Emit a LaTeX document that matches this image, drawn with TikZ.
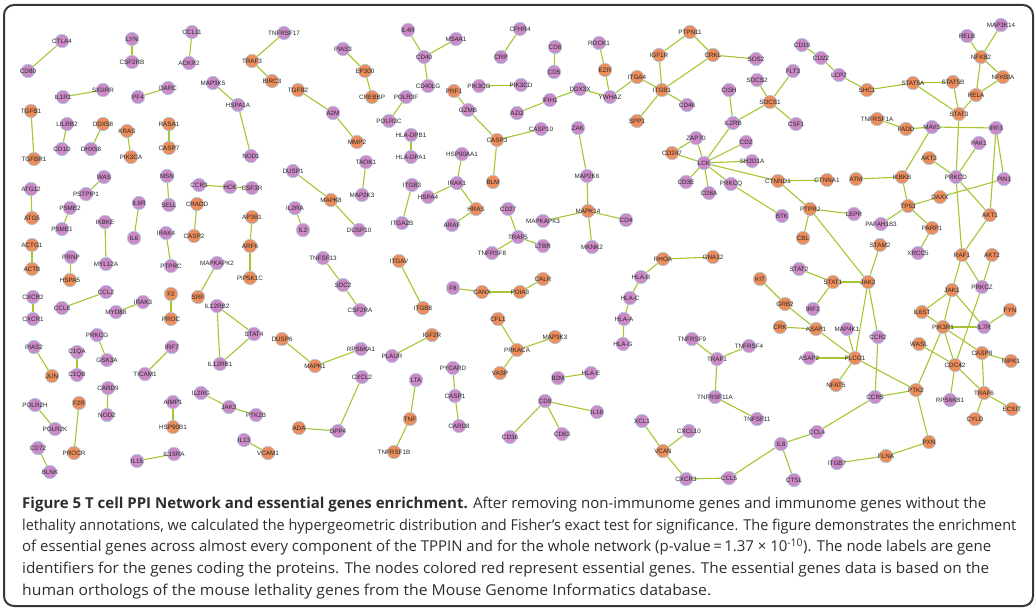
\documentclass[tikz,border=0pt]{standalone}
\usepackage{fontspec}
\setmainfont{Liberation Sans}
\newfontfamily\capfont{Open Sans}
\usetikzlibrary{backgrounds}
\definecolor{P}{RGB}{204,138,198}
\definecolor{O}{RGB}{236,141,92}
\definecolor{nedge}{RGB}{165,205,228}
\definecolor{ecol}{RGB}{165,198,48}
\definecolor{frame}{RGB}{55,55,55}
\definecolor{captxt}{RGB}{45,45,45}
\tikzset{
  gn/.style={circle, draw=nedge, line width=0.5pt, fill=#1, minimum size=13.5pt, inner sep=0pt},
  lab/.style={font=\fontsize{6.3}{7}\selectfont, text=black!85, inner sep=0pt},
  edge/.style={draw=ecol, line width=1.1pt},
  capline/.style={anchor=base west, inner sep=0pt, text=captxt, font=\capfont\fontsize{15}{17}\selectfont}
}
\newcommand\gnd[5]{\node[gn=#5, label={[lab]center:#4}] (#1) at (#2,#3) {};}
\newcommand\capw[2]{\resizebox{#1pt}{\height}{#2}}
\begin{document}
\begin{tikzpicture}[x=1pt,y=-1pt]
\useasboundingbox (0,0) rectangle (1036,610);
\draw[line width=2pt, frame, rounded corners=10pt] (4,5) rectangle (1033,606);
% left section
\gnd{CTLA4}{62}{41}{CTLA4}{P}
\gnd{CD80}{28}{71}{CD80}{P}
\gnd{LYN}{132}{39}{LYN}{P}
\gnd{CSF2RB}{132}{62}{CSF2RB}{P}
\gnd{CCL11}{192}{32}{CCL11}{P}
\gnd{ACKR2}{189}{63}{ACKR2}{P}
\gnd{TRAF3}{252}{61}{TRAF3}{O}
\gnd{TNFRSF17}{284}{33}{TNFRSF17}{P}
\gnd{BIRC3}{272}{81}{BIRC3}{O}
\gnd{MAP3K5}{213}{83}{MAP3K5}{P}
\gnd{HSPA1A}{238}{105}{HSPA1A}{P}
\gnd{NOD1}{251}{156}{NOD1}{P}
\gnd{IL1R1}{63}{97}{IL1R1}{P}
\gnd{SIGIRR}{103}{90}{SIGIRR}{P}
\gnd{PF4}{138}{97}{PF4}{P}
\gnd{DARC}{168}{88}{DARC}{P}
\gnd{TGFB1}{31}{111}{TGFB1}{O}
\gnd{TGFBR1}{34}{159}{TGFBR1}{O}
\gnd{LILRB2}{67}{124}{LILRB2}{P}
\gnd{CD1D}{62}{149}{CD1D}{P}
\gnd{DDX58}{103}{124}{DDX58}{O}
\gnd{DHX58}{91}{149}{DHX58}{P}
\gnd{KRAS}{127}{131}{KRAS}{O}
\gnd{PIK3CA}{131}{157}{PIK3CA}{O}
\gnd{RASA1}{169}{124}{RASA1}{O}
\gnd{CASP7}{169}{148}{CASP7}{O}
\gnd{WAS}{104}{177}{WAS}{P}
\gnd{PSTPIP1}{86}{194}{PSTPIP1}{P}
\gnd{ATG12}{31}{189}{ATG12}{P}
\gnd{ATG5}{32}{218}{ATG5}{O}
\gnd{PSME2}{70}{208}{PSME2}{P}
\gnd{PSME1}{62}{229}{PSME1}{P}
\gnd{IKBKE}{105}{222}{IKBKE}{P}
\gnd{MYL12A}{106}{264}{MYL12A}{P}
\gnd{MSN}{167}{176}{MSN}{P}
\gnd{SELL}{169}{205}{SELL}{P}
\gnd{CCR3}{199}{185}{CCR3}{P}
\gnd{HCK}{230}{187}{HCK}{P}
\gnd{CSF3R}{252}{188}{CSF3R}{P}
\gnd{CRADD}{197}{204}{CRADD}{O}
\gnd{CASP2}{194}{236}{CASP2}{O}
\gnd{IL6R}{139}{203}{IL6R}{P}
\gnd{IL6}{134}{238}{IL6}{P}
\gnd{IRAK4}{166}{233}{IRAK4}{P}
\gnd{PTPRC}{171}{266}{PTPRC}{P}
\gnd{AP3B1}{252}{217}{AP3B1}{O}
\gnd{ARF6}{250}{246}{ARF6}{O}
\gnd{PIP5K1C}{250}{278}{PIP5K1C}{O}
\gnd{ACTG1}{32}{245}{ACTG1}{O}
\gnd{ACTB}{32}{269}{ACTB}{O}
\gnd{PRNP}{71}{257}{PRNP}{P}
\gnd{HSPA5}{70}{280}{HSPA5}{O}
\gnd{MAPKAPK2}{217}{263}{MAPKAPK2}{P}
\gnd{SRF}{198}{297}{SRF}{O}
\gnd{CXCR2}{33}{297}{CXCR2}{P}
\gnd{CXCR1}{33}{319}{CXCR1}{P}
\gnd{CCL2}{106}{292}{CCL2}{P}
\gnd{CCL8}{62}{308}{CCL8}{P}
\gnd{IRAK3}{143}{302}{IRAK3}{P}
\gnd{MYD88}{116}{312}{MYD88}{P}
\gnd{F2}{171}{294}{F2}{O}
\gnd{PROC}{171}{319}{PROC}{O}
\gnd{IL12RB2}{217}{306}{IL12RB2}{P}
\gnd{STAT4}{254}{334}{STAT4}{P}
\gnd{IL12RB1}{220}{364}{IL12RB1}{P}
\gnd{PRKCG}{97}{335}{PRKCG}{P}
\gnd{GSK3A}{107}{360}{GSK3A}{P}
\gnd{PIAS2}{34}{347}{PIAS2}{P}
\gnd{JUN}{52}{376}{JUN}{O}
\gnd{C1QA}{77}{352}{C1QA}{P}
\gnd{C1QB}{77}{375}{C1QB}{P}
\gnd{IRF7}{172}{347}{IRF7}{P}
\gnd{TICAM1}{145}{374}{TICAM1}{P}
\gnd{CARD9}{108}{388}{CARD9}{P}
\gnd{NOD2}{107}{415}{NOD2}{P}
\gnd{POLR2H}{35}{405}{POLR2H}{P}
\gnd{POLR2K}{55}{429}{POLR2K}{P}
\gnd{F2R}{79}{403}{F2R}{O}
\gnd{PROCR}{74}{453}{PROCR}{O}
\gnd{CD72}{38}{448}{CD72}{P}
\gnd{BLNK}{50}{472}{BLNK}{P}
\gnd{AIMP1}{173}{402}{AIMP1}{P}
\gnd{HSP90B1}{173}{427}{HSP90B1}{O}
\gnd{IL2RG}{201}{393}{IL2RG}{P}
\gnd{JAK3}{229}{407}{JAK3}{P}
\gnd{PTK2B}{256}{415}{PTK2B}{P}
\gnd{IL13}{244}{440}{IL13}{P}
\gnd{VCAM1}{268}{453}{VCAM1}{O}
\gnd{IL15}{137}{461}{IL15}{P}
\gnd{IL15RA}{174}{454}{IL15RA}{P}
% middle
\gnd{PIAS3}{343}{49}{PIAS3}{P}
\gnd{EP300}{365}{71}{EP300}{O}
\gnd{CREBBP}{372}{97}{CREBBP}{O}
\gnd{IL4R}{408}{30}{IL4R}{P}
\gnd{MS4A1}{456}{39}{MS4A1}{P}
\gnd{CD40}{424}{57}{CD40}{P}
\gnd{CD40LG}{428}{86}{CD40LG}{P}
\gnd{CFHR4}{520}{29}{CFHR4}{P}
\gnd{CRP}{501}{57}{CRP}{P}
\gnd{TGFB2}{298}{90}{TGFB2}{O}
\gnd{A2M}{333}{113}{A2M}{P}
\gnd{MMP2}{357}{142}{MMP2}{O}
\gnd{POLR3F}{406}{97}{POLR3F}{P}
\gnd{POLR3C}{389}{121}{POLR3C}{P}
\gnd{PRF1}{454}{91}{PRF1}{O}
\gnd{PIK3CG}{479}{86}{PIK3CG}{P}
\gnd{PIK3CD}{521}{85}{PIK3CD}{P}
\gnd{GZMB}{468}{110}{GZMB}{P}
\gnd{AZI2}{517}{113}{AZI2}{P}
\gnd{HLADPB1}{411}{135}{HLA-DPB1}{P}
\gnd{HLADPA1}{411}{157}{HLA-DPA1}{P}
\gnd{CASP3}{497}{140}{CASP3}{O}
\gnd{BLM}{493}{182}{BLM}{O}
\gnd{TAOK1}{366}{162}{TAOK1}{P}
\gnd{MAP2K3}{362}{195}{MAP2K3}{P}
\gnd{DUSP1}{293}{171}{DUSP1}{P}
\gnd{MAPK8}{331}{200}{MAPK8}{O}
\gnd{DUSP10}{359}{230}{DUSP10}{P}
\gnd{IL2RA}{295}{208}{IL2RA}{P}
\gnd{IL2}{303}{230}{IL2}{P}
\gnd{ITGB3}{412}{185}{ITGB3}{P}
\gnd{ITGA2B}{402}{223}{ITGA2B}{P}
\gnd{HSP90AA1}{462}{154}{HSP90AA1}{P}
\gnd{IRAK1}{457}{183}{IRAK1}{P}
\gnd{HSPA4}{428}{197}{HSPA4}{P}
\gnd{HRAS}{476}{209}{HRAS}{O}
\gnd{ARAF}{452}{225}{ARAF}{P}
\gnd{CD27}{508}{209}{CD27}{P}
\gnd{TRAF5}{518}{237}{TRAF5}{P}
\gnd{TNFRSF8}{492}{253}{TNFRSF8}{P}
\gnd{LTBR}{543}{246}{LTBR}{P}
\gnd{CD6}{555}{47}{CD6}{P}
\gnd{CD5}{554}{72}{CD5}{P}
\gnd{ROCK1}{599}{43}{ROCK1}{P}
\gnd{EZR}{605}{70}{EZR}{O}
\gnd{PTPN11}{690}{32}{PTPN11}{O}
\gnd{IGF1R}{659}{55}{IGF1R}{O}
\gnd{CRKL}{713}{55}{CRKL}{O}
\gnd{SOS2}{756}{59}{SOS2}{P}
\gnd{ITGA4}{637}{77}{ITGA4}{O}
\gnd{ITGB1}{662}{90}{ITGB1}{O}
\gnd{CD46}{687}{105}{CD46}{P}
\gnd{SPP1}{637}{121}{SPP1}{O}
\gnd{DDX3X}{580}{89}{DDX3X}{P}
\gnd{YWHAZ}{610}{97}{YWHAZ}{P}
\gnd{IFIH1}{550}{100}{IFIH1}{P}
\gnd{CASP10}{541}{129}{CASP10}{P}
\gnd{ZAK}{578}{128}{ZAK}{P}
\gnd{MAP2K6}{587}{176}{MAP2K6}{P}
\gnd{MAPK14}{588}{211}{MAPK14}{O}
\gnd{MAPKAPK3}{543}{221}{MAPKAPK3}{P}
\gnd{CD4}{626}{220}{CD4}{P}
\gnd{MKNK2}{592}{247}{MKNK2}{P}
\gnd{TNFSF13}{323}{258}{TNFSF13}{P}
\gnd{SDC2}{343}{285}{SDC2}{P}
\gnd{CSF2RA}{360}{310}{CSF2RA}{P}
\gnd{ITGAV}{399}{261}{ITGAV}{O}
\gnd{ITGB8}{423}{308}{ITGB8}{O}
\gnd{F8}{453}{288}{F8}{P}
\gnd{CANX}{482}{292}{CANX}{O}
\gnd{PDIA3}{520}{292}{PDIA3}{O}
\gnd{CALR}{543}{279}{CALR}{O}
\gnd{CFL1}{498}{319}{CFL1}{O}
\gnd{PRKACA}{517}{350}{PRKACA}{O}
\gnd{VASP}{500}{373}{VASP}{O}
\gnd{MAP3K3}{555}{337}{MAP3K3}{O}
\gnd{DUSP6}{282}{339}{DUSP6}{O}
\gnd{MAPK1}{315}{366}{MAPK1}{O}
\gnd{RPS6KA1}{361}{349}{RPS6KA1}{P}
\gnd{IGF2R}{432}{335}{IGF2R}{O}
\gnd{PLAUR}{392}{356}{PLAUR}{P}
\gnd{CXCL2}{362}{377}{CXCL2}{P}
\gnd{LTA}{416}{380}{LTA}{P}
\gnd{PYCARD}{453}{368}{PYCARD}{P}
\gnd{CASP1}{455}{396}{CASP1}{P}
\gnd{CARD8}{459}{426}{CARD8}{P}
\gnd{ADA}{299}{428}{ADA}{O}
\gnd{DPP4}{338}{431}{DPP4}{P}
\gnd{TNF}{410}{419}{TNF}{O}
\gnd{TNFRSF1B}{394}{452}{TNFRSF1B}{O}
\gnd{B2M}{558}{378}{B2M}{P}
\gnd{HLAE}{591}{373}{HLA-E}{P}
\gnd{CD9}{545}{401}{CD9}{P}
\gnd{IL16}{597}{412}{IL16}{P}
\gnd{CD63}{562}{434}{CD63}{P}
\gnd{CD36}{510}{437}{CD36}{P}
% right
\gnd{RHOA}{663}{259}{RHOA}{O}
\gnd{GNA12}{713}{257}{GNA12}{O}
\gnd{HLAB}{641}{277}{HLA-B}{P}
\gnd{HLAC}{630}{298}{HLA-C}{P}
\gnd{HLAA}{624}{319}{HLA-A}{P}
\gnd{HLAG}{623}{344}{HLA-G}{P}
\gnd{TNFRSF9}{692}{339}{TNFRSF9}{P}
\gnd{TNFRSF4}{749}{346}{TNFRSF4}{P}
\gnd{TRAF1}{717}{359}{TRAF1}{P}
\gnd{TNFRSF11A}{715}{397}{TNFRSF11A}{P}
\gnd{TNFSF11}{757}{419}{TNFSF11}{P}
\gnd{XCL1}{642}{421}{XCL1}{P}
\gnd{CXCL10}{689}{431}{CXCL10}{P}
\gnd{VCAN}{663}{451}{VCAN}{O}
\gnd{CXCR3}{686}{479}{CXCR3}{P}
\gnd{CCL5}{729}{478}{CCL5}{P}
\gnd{IL8}{781}{444}{IL8}{P}
\gnd{CTSL}{794}{480}{CTSL}{P}
\gnd{CCL4}{817}{432}{CCL4}{P}
\gnd{ITGB7}{837}{463}{ITGB7}{P}
\gnd{FLNA}{886}{456}{FLNA}{O}
\gnd{PXN}{929}{442}{PXN}{O}
\gnd{SOCS2}{757}{80}{SOCS2}{P}
\gnd{SOCS1}{770}{102}{SOCS1}{O}
\gnd{FLT3}{793}{71}{FLT3}{P}
\gnd{CSF1}{796}{124}{CSF1}{P}
\gnd{CISH}{729}{90}{CISH}{P}
\gnd{IL2RB}{733}{123}{IL2RB}{P}
\gnd{ZAP70}{696}{138}{ZAP70}{P}
\gnd{CD2}{746}{142}{CD2}{P}
\gnd{CD247}{672}{153}{CD247}{O}
\gnd{LCK}{704}{163}{LCK}{P}
\gnd{SH2D1A}{752}{161}{SH2D1A}{P}
\gnd{CD3E}{686}{182}{CD3E}{P}
\gnd{PRKCQ}{731}{184}{PRKCQ}{P}
\gnd{CD8A}{709}{193}{CD8A}{P}
\gnd{CTNND1}{778}{181}{CTNND1}{O}
\gnd{CTNNA1}{827}{180}{CTNNA1}{O}
\gnd{BTK}{782}{216}{BTK}{P}
\gnd{PTPRJ}{810}{209}{PTPRJ}{O}
\gnd{LEPR}{854}{214}{LEPR}{P}
\gnd{CBL}{803}{238}{CBL}{O}
\gnd{CD19}{802}{45}{CD19}{P}
\gnd{CD22}{821}{58}{CD22}{P}
\gnd{LCP2}{839}{75}{LCP2}{P}
\gnd{SHC1}{867}{90}{SHC1}{O}
\gnd{STAT5A}{913}{83}{STAT5A}{O}
\gnd{STAT5B}{953}{82}{STAT5B}{O}
\gnd{RELB}{967}{36}{RELB}{P}
\gnd{MAP3K14}{1001}{25}{MAP3K14}{P}
\gnd{NFKB2}{981}{57}{NFKB2}{O}
\gnd{NFKBIA}{1003}{77}{NFKBIA}{O}
\gnd{RELA}{976}{95}{RELA}{O}
\gnd{STAT3}{959}{114}{STAT3}{O}
\gnd{TNFRSF1A}{877}{119}{TNFRSF1A}{O}
\gnd{FADD}{906}{129}{FADD}{O}
\gnd{MAVS}{932}{127}{MAVS}{P}
\gnd{IRF3}{996}{128}{IRF3}{P}
\gnd{PAK1}{979}{143}{PAK1}{P}
\gnd{AKT3}{929}{158}{AKT3}{O}
\gnd{PRKCD}{956}{177}{PRKCD}{P}
\gnd{PIN1}{1004}{179}{PIN1}{P}
\gnd{ATM}{856}{179}{ATM}{O}
\gnd{IKBKB}{902}{177}{IKBKB}{O}
\gnd{DAXX}{940}{197}{DAXX}{O}
\gnd{TP53}{908}{206}{TP53}{O}
\gnd{AKT1}{990}{215}{AKT1}{O}
\gnd{PAFAH1B3}{881}{224}{PAFAH1B3}{P}
\gnd{PARP1}{932}{228}{PARP1}{O}
\gnd{STAM2}{880}{245}{STAM2}{O}
\gnd{XRCC5}{918}{253}{XRCC5}{P}
\gnd{RAF1}{962}{255}{RAF1}{O}
\gnd{AKT2}{992}{255}{AKT2}{O}
\gnd{STAT2}{799}{269}{STAT2}{P}
\gnd{STAT1}{833}{282}{STAT1}{O}
\gnd{JAK2}{868}{282}{JAK2}{O}
\gnd{PRKCZ}{982}{287}{PRKCZ}{P}
\gnd{JAK1}{952}{290}{JAK1}{O}
\gnd{KIT}{760}{279}{KIT}{O}
\gnd{GRB2}{785}{304}{GRB2}{O}
\gnd{IRF2}{813}{309}{IRF2}{P}
\gnd{FYN}{1010}{310}{FYN}{O}
\gnd{IL6ST}{922}{312}{IL6ST}{O}
\gnd{CRK}{780}{327}{CRK}{O}
\gnd{ASAP1}{816}{329}{ASAP1}{O}
\gnd{MAP4K1}{847}{329}{MAP4K1}{P}
\gnd{PIK3R1}{943}{327}{PIK3R1}{O}
\gnd{IL7R}{984}{327}{IL7R}{P}
\gnd{CCR2}{878}{337}{CCR2}{P}
\gnd{WASL}{919}{344}{WASL}{O}
\gnd{CASP8}{982}{353}{CASP8}{O}
\gnd{ASAP2}{809}{358}{ASAP2}{P}
\gnd{PLCG1}{855}{358}{PLCG1}{O}
\gnd{CDC42}{955}{365}{CDC42}{O}
\gnd{RIPK1}{1011}{361}{RIPK1}{O}
\gnd{NFAT5}{836}{385}{NFAT5}{O}
\gnd{PTK2}{916}{390}{PTK2}{O}
\gnd{TRAF6}{984}{393}{TRAF6}{O}
\gnd{CCR5}{875}{397}{CCR5}{P}
\gnd{RPS6KB1}{950}{400}{RPS6KB1}{P}
\gnd{ECSIT}{1012}{409}{ECSIT}{O}
\gnd{CYLD}{975}{419}{CYLD}{O}
\begin{pgfonlayer}{background}
\foreach \a/\b in {CTLA4/CD80, LYN/CSF2RB, CCL11/ACKR2, TRAF3/TNFRSF17, TRAF3/BIRC3, MAP3K5/HSPA1A, HSPA1A/NOD1, IL1R1/SIGIRR, PF4/DARC, TGFB1/TGFBR1, LILRB2/CD1D, DDX58/DHX58, KRAS/PIK3CA, RASA1/CASP7, WAS/PSTPIP1, ATG12/ATG5, PSME2/PSME1, IKBKE/MYL12A, MSN/SELL, CCR3/HCK, HCK/CSF3R, CRADD/CASP2, IL6R/IL6, IRAK4/PTPRC, AP3B1/ARF6, ARF6/PIP5K1C, ACTG1/ACTB, PRNP/HSPA5, MAPKAPK2/SRF, CXCR2/CXCR1, CCL2/CCL8, IRAK3/MYD88, F2/PROC, IL12RB2/STAT4, IL12RB2/IL12RB1, STAT4/IL12RB1, PRKCG/GSK3A, PIAS2/JUN, C1QA/C1QB, IRF7/TICAM1, CARD9/NOD2, POLR2H/POLR2K, F2R/PROCR, CD72/BLNK, AIMP1/HSP90B1, IL2RG/JAK3, JAK3/PTK2B, IL13/VCAM1, IL15/IL15RA,
PIAS3/EP300, EP300/CREBBP, IL4R/CD40, CD40/MS4A1, CD40/CD40LG, CFHR4/CRP, TGFB2/A2M, A2M/MMP2, POLR3F/POLR3C, PRF1/GZMB, GZMB/CASP3, PIK3CG/PIK3CD, CASP3/BLM, CASP3/CASP10, AZI2/IFIH1, IFIH1/DDX3X, DDX3X/YWHAZ, ROCK1/EZR, EZR/YWHAZ, YWHAZ/ITGA4, ITGA4/ITGB1, ITGB1/IGF1R, IGF1R/PTPN11, PTPN11/CRKL, CRKL/ITGB1, CRKL/SOS2, ITGB1/CD46, ITGB1/SPP1, HLADPB1/HLADPA1, TAOK1/MAP2K3, DUSP1/MAPK8, MAPK8/DUSP10, IL2RA/IL2, ITGB3/ITGA2B, HSP90AA1/IRAK1, IRAK1/HSPA4, IRAK1/HRAS, HRAS/ARAF, CD27/TRAF5, TRAF5/TNFRSF8, TRAF5/LTBR, ZAK/MAP2K6, MAP2K6/MAPK14, MAPK14/MAPKAPK3, MAPK14/CD4, MAPK14/MKNK2, CD6/CD5,
TNFSF13/SDC2, SDC2/CSF2RA, ITGAV/ITGB8, F8/CANX, CANX/PDIA3, PDIA3/CALR, CFL1/PRKACA, PRKACA/VASP, PRKACA/MAP3K3, DUSP6/MAPK1, MAPK1/RPS6KA1, IGF2R/PLAUR, CXCL2/DPP4, ADA/DPP4, LTA/TNF, TNF/TNFRSF1B, PYCARD/CASP1, CASP1/CARD8, B2M/HLAE, CD9/IL16, CD9/CD63, CD9/CD36,
RHOA/GNA12, RHOA/HLAB, HLAB/HLAC, HLAC/HLAA, HLAA/HLAG, TNFRSF9/TRAF1, TNFRSF4/TRAF1, TRAF1/TNFRSF11A, TNFRSF11A/TNFSF11, XCL1/VCAN, CXCL10/VCAN, VCAN/CXCR3, CXCR3/CCL5, CCL5/IL8, IL8/CTSL, IL8/CCL4, CCL4/CCR5,
SOCS2/SOCS1, SOCS1/FLT3, SOCS1/CSF1, SOCS1/IL2RB, CISH/IL2RB, IL2RB/LCK, LCK/ZAP70, ZAP70/CD247, LCK/CD247, LCK/CD2, LCK/SH2D1A, LCK/CD3E, LCK/CD8A, LCK/PRKCQ, LCK/CTNND1, PRKCQ/BTK, CTNND1/CTNNA1, CTNND1/PTPRJ, PTPRJ/LEPR, PTPRJ/CBL, PTPRJ/JAK2,
CD19/CD22, CD22/LCP2, LCP2/SHC1, SHC1/STAT5A, STAT5A/STAT5B, STAT5A/STAT3, STAT5B/STAT3, STAT3/RELA, RELA/NFKB2, RELA/NFKBIA, NFKB2/RELB, NFKB2/MAP3K14, NFKB2/NFKBIA, STAT3/PRKCD, PRKCD/PAK1, PRKCD/AKT3, PRKCD/AKT1, PRKCD/RAF1,
TNFRSF1A/FADD, FADD/MAVS, MAVS/IRF3, MAVS/IKBKB, IRF3/PIN1, IRF3/AKT1, PIN1/DAXX, DAXX/TP53, ATM/IKBKB, IKBKB/TP53, TP53/PAFAH1B3, TP53/PARP1, PARP1/XRCC5, AKT1/RAF1, RAF1/JAK1, RAF1/PRKCZ, AKT2/PRKCZ, PRKCZ/CDC42,
JAK1/IL6ST, JAK1/PIK3R1, JAK1/IL7R, IL6ST/PIK3R1, PIK3R1/IL7R, IL7R/FYN, PIK3R1/CASP8, PIK3R1/CDC42, PIK3R1/PTK2, CASP8/RIPK1, CASP8/TRAF6, WASL/CDC42, CDC42/TRAF6, CDC42/RPS6KB1, TRAF6/ECSIT, TRAF6/CYLD,
STAM2/JAK2, JAK2/STAT1, STAT1/STAT2, STAT1/IRF2, JAK2/PLCG1, JAK2/CCR2, CCR2/CCR5, CCR5/PTK2, PLCG1/PTK2, PLCG1/MAP4K1, PLCG1/ASAP1, PLCG1/ASAP2, PLCG1/NFAT5, ASAP1/GRB2, ASAP1/CRK, GRB2/KIT, PTK2/PXN, PXN/FLNA, FLNA/ITGB7}
  \draw[edge] (\a) -- (\b);
\end{pgfonlayer}
% caption
\node[capline] (c1) at (22,508) {\capw{964}{\textbf{Figure 5 T cell PPI Network and essential genes enrichment.} After removing non-immunome genes and immunome genes without the}};
\node[capline] (c2) at (22,530) {\capw{994}{lethality annotations, we calculated the hypergeometric distribution and Fisher’s exact test for significance. The figure demonstrates the enrichment}};
\node[capline] (c3) at (22,551.5) {\capw{969}{of essential genes across almost every component of the TPPIN and for the whole network (p-value\,=\,1.37 × 10\textsuperscript{-10}). The node labels are gene}};
\node[capline] (c4) at (22,573) {\capw{967}{identifiers for the genes coding the proteins. The nodes colored red represent essential genes. The essential genes data is based on the}};
\node[capline] (c5) at (22,595) {\capw{689}{human orthologs of the mouse lethality genes from the Mouse Genome Informatics database.}};
\end{tikzpicture}
\end{document}
